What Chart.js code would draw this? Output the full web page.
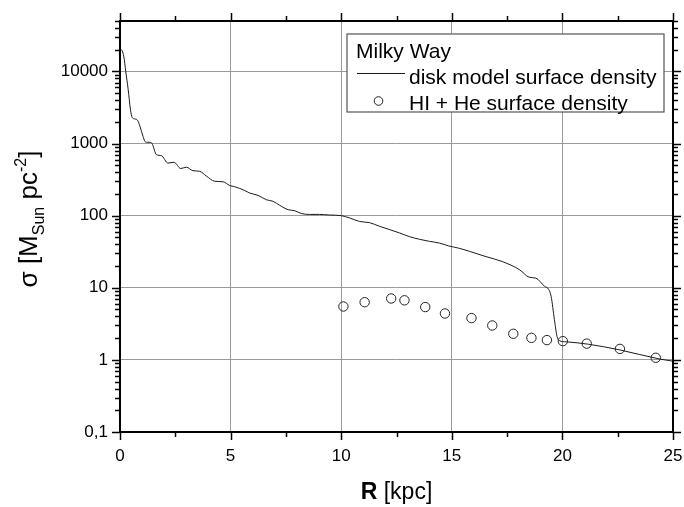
<!DOCTYPE html>
<html><head><meta charset="utf-8">
<script src="https://cdn.jsdelivr.net/npm/chart.js@4.4.0/dist/chart.umd.min.js"></script>
<style>html,body{margin:0;padding:0;background:#fff;}#wrap{width:684px;height:507px;position:relative;}</style>
</head><body><div id="wrap"><canvas id="c" width="684" height="507"></canvas></div>
<script>
// disk model surface density (R in kpc, sigma in M_sun pc^-2)
const modelR = [0, 0.04, 0.17, 0.26, 0.37, 0.47, 0.55, 0.65, 0.79, 0.9, 1.04, 1.12, 1.2, 1.35, 1.45, 1.65, 1.87, 2.17, 2.44, 2.75, 3.0, 3.3, 3.6, 3.9, 4.28, 4.66, 4.96, 5.18, 5.64, 5.86, 6.24, 6.62, 6.92, 7.22, 7.6, 7.9, 8.2, 8.57, 9.02, 9.48, 10.0, 10.38, 10.83, 11.28, 11.74, 12.19, 12.64, 13.1, 13.54, 13.99, 14.44, 14.86, 15.3, 15.8, 16.55, 17.3, 18.06, 18.5, 18.8, 19.19, 19.38, 19.49, 19.64, 19.76, 19.86, 20.17, 21.17, 22.57, 24.38, 25];
const modelSigma = [20000, 20000, 16300, 10000, 5600, 3000, 2300, 2200, 2100, 1740, 1260, 1080, 1040, 1040, 1000, 700, 680, 535, 550, 450, 470, 420, 412, 355, 300, 295, 262, 252, 223, 206, 191, 166, 158, 139, 121, 117, 107, 104, 104, 102, 100, 93, 83, 80, 71, 64, 57.5, 51, 47, 44, 41.7, 38, 35.5, 32, 27, 23, 17.8, 14, 13.6, 10.5, 9.5, 7.6, 3.6, 2.1, 1.85, 1.78, 1.65, 1.38, 1.03, 0.96];
// HI + He surface density
const hiR = [10.1, 11.06, 12.26, 12.86, 13.8, 14.69, 15.89, 16.83, 17.78, 18.6, 19.3, 20.02, 21.1, 22.6, 24.22];
const hiSigma = [5.5, 6.3, 7.1, 6.7, 5.4, 4.4, 3.8, 3.0, 2.3, 2.02, 1.88, 1.82, 1.68, 1.42, 1.07];
const xTicks = [0, 5, 10, 15, 20, 25];
const yTicks = [0.1, 1, 10, 100, 1000, 10000];
const yTickLabels = ['0,1', '1', '10', '100', '1000', '10000'];
const legendTitle = 'Milky Way';
const seriesLabels = ['disk model surface density', 'HI + He surface density'];

const FONT = '"Liberation Sans", Arial, sans-serif';

const framePlugin = {
  id: 'frame',
  afterDatasetsDraw(chart) {
    const {ctx, chartArea: a, scales: {x, y}} = chart;
    ctx.save();
    ctx.strokeStyle = '#000';
    ctx.lineWidth = 1.5;
    ctx.beginPath();
    for (let v = 0; v <= 25.001; v += 2.5) {
      const p = Math.round(x.getPixelForValue(v)) + 0.5;
      const L = (Math.abs(v % 5) < 1e-6) ? 8 : 5;
      ctx.moveTo(p, a.bottom); ctx.lineTo(p, a.bottom + L);
      ctx.moveTo(p, a.top); ctx.lineTo(p, a.top - L);
    }
    for (let e = -1; e <= 4; e++) {
      for (let m = 1; m <= 9; m++) {
        const v = m * Math.pow(10, e);
        if (v > 50000) break;
        const p = Math.round(y.getPixelForValue(v)) + 0.5;
        const L = m === 1 ? 8 : 5;
        ctx.moveTo(a.left, p); ctx.lineTo(a.left - L, p);
        ctx.moveTo(a.right, p); ctx.lineTo(a.right + L, p);
      }
    }
    ctx.stroke();
    ctx.lineWidth = 2;
    ctx.strokeRect(a.left, a.top, a.right - a.left, a.bottom - a.top);
    ctx.restore();
  }
};

const legendPlugin = {
  id: 'boxLegend',
  afterDraw(chart) {
    const {ctx} = chart;
    const ds = chart.data.datasets;
    ctx.save();
    const bx = 347, by = 34, bw = 317, bh = 78;
    ctx.fillStyle = '#fff';
    ctx.fillRect(bx, by, bw, bh);
    ctx.strokeStyle = '#555';
    ctx.lineWidth = 1.2;
    ctx.strokeRect(bx, by, bw, bh);
    ctx.fillStyle = '#000';
    ctx.font = '21px ' + FONT;
    ctx.textBaseline = 'alphabetic';
    ctx.textAlign = 'left';
    ctx.fillText(legendTitle, 356, 58);
    // line sample
    ctx.strokeStyle = ds[0].borderColor;
    ctx.lineWidth = 1;
    ctx.beginPath(); ctx.moveTo(357, 73.5); ctx.lineTo(405, 73.5); ctx.stroke();
    ctx.fillText(ds[0].label, 409, 84);
    // circle sample
    ctx.strokeStyle = ds[1].borderColor;
    ctx.beginPath(); ctx.arc(378.5, 101, 4.3, 0, Math.PI * 2); ctx.stroke();
    ctx.fillText(ds[1].label, 409, 110);
    ctx.restore();
  }
};

const titlePlugin = {
  id: 'axisTitles',
  afterDraw(chart) {
    const {ctx, chartArea: a} = chart;
    ctx.save();
    ctx.fillStyle = '#000';
    ctx.textBaseline = 'alphabetic';
    ctx.textAlign = 'left';
    // x title
    const xs = 23;
    ctx.font = 'bold ' + xs + 'px ' + FONT;
    const wR = ctx.measureText('R').width;
    ctx.font = xs + 'px ' + FONT;
    const wK = ctx.measureText(' [kpc]').width;
    const cx = (a.left + a.right) / 2;
    let sx = cx - (wR + wK) / 2;
    ctx.font = 'bold ' + xs + 'px ' + FONT;
    ctx.fillText('R', sx, 499);
    ctx.font = xs + 'px ' + FONT;
    ctx.fillText(' [kpc]', sx + wR, 499);
    // y title with sub/superscript
    const big = 26, small = 16;
    const parts = [
      {t: 'σ [M', f: big, dy: 0},
      {t: 'Sun', f: small, dy: 7},
      {t: ' pc', f: big, dy: 0},
      {t: '-2', f: small, dy: -11},
      {t: ']', f: big, dy: 0}
    ];
    let total = 0;
    parts.forEach(p => { ctx.font = p.f + 'px ' + FONT; p.w = ctx.measureText(p.t).width; total += p.w; });
    ctx.translate(37, 219);
    ctx.rotate(-Math.PI / 2);
    let px = -total / 2;
    parts.forEach(p => { ctx.font = p.f + 'px ' + FONT; ctx.fillText(p.t, px, p.dy); px += p.w; });
    ctx.restore();
  }
};

new Chart(document.getElementById('c'), {
  type: 'scatter',
  data: {
    datasets: [
      {
        label: seriesLabels[0],
        data: modelR.map((r, i) => ({x: r, y: modelSigma[i]})),
        showLine: true,
        borderColor: '#1a1a1a',
        borderWidth: 1,
        pointRadius: 0,
        cubicInterpolationMode: 'monotone',
        fill: false
      },
      {
        label: seriesLabels[1],
        data: hiR.map((r, i) => ({x: r, y: hiSigma[i]})),
        showLine: false,
        borderColor: '#222',
        backgroundColor: 'rgba(0,0,0,0)',
        borderWidth: 1,
        pointRadius: 4.7,
        pointStyle: 'circle'
      }
    ]
  },
  options: {
    responsive: false,
    animation: false,
    devicePixelRatio: 1,
    layout: {padding: {top: 21, right: 11, left: 0, bottom: 0}},
    plugins: {legend: {display: false}, tooltip: {enabled: false}},
    scales: {
      x: {
        type: 'linear', min: 0, max: 25,
        afterFit(s) { s.height = 75; s.paddingLeft = 0; s.paddingRight = 0; },
        afterBuildTicks(s) { s.ticks = xTicks.map(v => ({value: v})); },
        border: {display: false},
        grid: {
          drawTicks: false,
          color: c => (c.tick && (c.tick.value === 0 || c.tick.value === 25)) ? 'rgba(0,0,0,0)' : '#9a9a9a',
          lineWidth: 1
        },
        ticks: {color: '#000', padding: 14, font: {family: FONT, size: 17}, maxRotation: 0,
          callback: v => String(v)}
      },
      y: {
        type: 'logarithmic', min: 0.1, max: 50000,
        afterFit(s) { s.width = 120; s.paddingTop = 0; s.paddingBottom = 0; },
        afterBuildTicks(s) { s.ticks = yTicks.map(v => ({value: v})); },
        border: {display: false},
        grid: {
          drawTicks: false,
          color: c => (c.tick && c.tick.value === 0.1) ? 'rgba(0,0,0,0)' : '#9a9a9a',
          lineWidth: 1
        },
        ticks: {color: '#000', padding: 12, font: {family: FONT, size: 17},
          callback: v => { const i = yTicks.indexOf(v); return i >= 0 ? yTickLabels[i] : ''; }}
      }
    }
  },
  plugins: [framePlugin, legendPlugin, titlePlugin]
});
</script>
</body></html>
